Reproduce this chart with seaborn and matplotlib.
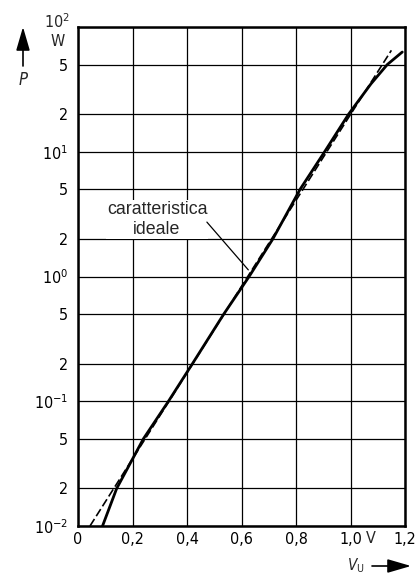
import matplotlib
matplotlib.use("Agg")
import matplotlib.pyplot as plt
from matplotlib import font_manager
from matplotlib.ticker import FixedLocator, NullLocator
import pandas as pd
import seaborn as sns

# Measured power characteristic (voltage in V, power in W)
V_real = [0.090, 0.142, 0.240, 0.332, 0.420, 0.535, 0.628, 0.715, 0.815,
          0.905, 0.993, 1.075, 1.135, 1.19]
P_real = [0.01, 0.02, 0.05, 0.1, 0.2, 0.5, 1.0, 2.0, 5.0,
          10.0, 20.0, 35.0, 50.0, 63.0]

# Ideal characteristic (straight line on the log scale)
V_ideal = [0.044, 0.334, 0.623, 0.913, 1.15]
P_ideal = [0.01, 0.1, 1.0, 10.0, 65.0]

x_ticks = [0.0, 0.2, 0.4, 0.6, 0.8, 1.0, 1.2]
x_labels = ["0", "0,2", "0,4", "0,6", "0,8", "1,0", "1,2"]
y_ticks = [0.01, 0.02, 0.05, 0.1, 0.2, 0.5, 1, 2, 5, 10, 20, 50, 100]
y_labels = [r"$\mathregular{10^{-2}}$", "2", "5", r"$\mathregular{10^{-1}}$", "2", "5",
            r"$\mathregular{10^{0}}$", "2", "5", r"$\mathregular{10^{1}}$", "2", "5", ""]

sns.set_theme(style="white")
names = {f.name for f in font_manager.fontManager.ttflist}
if "Liberation Sans Narrow" in names:
    plt.rcParams["font.family"] = ["Liberation Sans Narrow", "DejaVu Sans"]
    plt.rcParams["font.stretch"] = "normal"
else:
    plt.rcParams["font.family"] = ["DejaVu Sans"]
    plt.rcParams["font.stretch"] = "condensed"
plt.rcParams["mathtext.default"] = "regular"
plt.rcParams["lines.scale_dashes"] = False

real = pd.DataFrame({"V": V_real, "P": P_real})
ideal = pd.DataFrame({"V": V_ideal, "P": P_ideal})

W, H = 416, 574
fig = plt.figure(figsize=(W / 100, H / 100), dpi=100)
fig.patch.set_facecolor("white")
ax = fig.add_axes([78 / W, 48 / H, 327 / W, 499 / H])

ax.set_yscale("log")
ax.set_xlim(0, 1.2)
ax.set_ylim(1e-2, 1e2)

sns.lineplot(data=ideal, x="V", y="P", ax=ax, color="black", lw=1.2,
             linestyle=(0, (6.0, 2.4)), sort=False, zorder=3)
sns.lineplot(data=real, x="V", y="P", ax=ax, color="black", lw=2.0,
             sort=False, zorder=4)

ax.xaxis.set_major_locator(FixedLocator(x_ticks))
ax.set_xticklabels(x_labels)
ax.yaxis.set_major_locator(FixedLocator(y_ticks))
ax.yaxis.set_minor_locator(NullLocator())
ax.set_yticklabels(y_labels)
ax.tick_params(axis="both", length=0, labelsize=11.5, colors="black")
ax.tick_params(axis="y", pad=7)
ax.tick_params(axis="x", pad=4)
ax.grid(True, which="major", color="black", lw=0.9)
for s in ax.spines.values():
    s.set_visible(True)
    s.set_color("black")
    s.set_linewidth(1.8)
ax.set_xlabel("")
ax.set_ylabel("")

# Annotation for the ideal curve
ax.text(0.29, 2.85, "caratteristica\nideale", ha="center", va="center",
        fontsize=12.8, family=["Liberation Sans", "DejaVu Sans"], stretch="normal",
        linespacing=1.2, zorder=5,
        bbox=dict(facecolor="white", edgecolor="none", pad=0.8))
ax.annotate("", xy=(0.625, 1.13), xytext=(0.473, 2.73),
            arrowprops=dict(arrowstyle="-", color="black", lw=0.9,
                            shrinkA=0, shrinkB=0), zorder=5)

# Unit next to the 1,0 tick and the top decade with its unit on the y axis
ax.text(1.076, -0.0095, "V", ha="center", va="top", fontsize=11.5,
        transform=ax.get_xaxis_transform())
fig.text(70 / W, 1 - 22 / H, r"$\mathregular{10^{2}}$", ha="right", va="center", fontsize=11.5)
fig.text(58 / W, 1 - 42 / H, "W", ha="center", va="center", fontsize=11.5)

# Axis quantity symbols with arrows
fig.text(23 / W, 1 - 80 / H, "P", ha="center", va="center", fontsize=12, style="italic")
ax.annotate("", xy=(23, H - 27), xytext=(23, H - 66), xycoords="figure pixels",
            textcoords="figure pixels", annotation_clip=False,
            arrowprops=dict(arrowstyle="-|>,head_length=1.2,head_width=0.35",
                            color="black", lw=1.2, shrinkA=0, shrinkB=0))
fig.text(356 / W, 1 - 566 / H, r"$\mathit{V}_{\mathregular{U}}$", ha="center", va="center",
         fontsize=11)
ax.annotate("", xy=(411, H - 566), xytext=(372, H - 566), xycoords="figure pixels",
            textcoords="figure pixels", annotation_clip=False,
            arrowprops=dict(arrowstyle="-|>,head_length=1.2,head_width=0.35",
                            color="black", lw=1.2, shrinkA=0, shrinkB=0))

fig.savefig("out.png", dpi=100, facecolor="white")
